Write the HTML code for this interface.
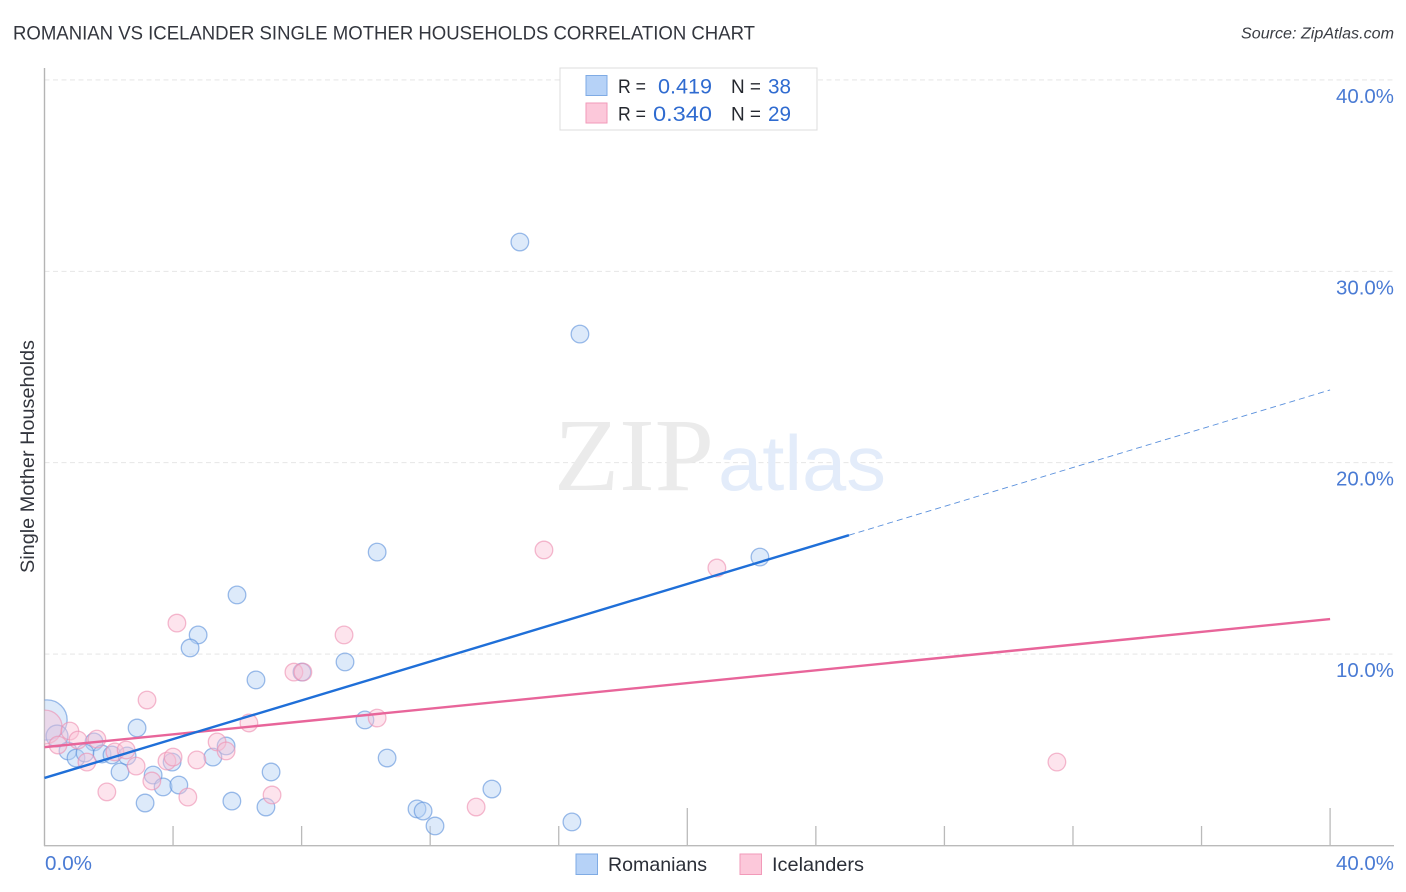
<!DOCTYPE html>
<html lang="en">
<head>
<meta charset="utf-8">
<title>Romanian vs Icelander Single Mother Households Correlation Chart</title>
<style>
  html, body { margin: 0; padding: 0; background: #fff; }
  body { width: 1406px; height: 892px; overflow: hidden; }
  svg { display: block; font-family: "Liberation Sans", sans-serif; }
</style>
</head>
<body>
<svg id="chart" xmlns="http://www.w3.org/2000/svg" width="1406" height="892" viewBox="0 0 1406 892">
  <defs>
    <clipPath id="plot-clip"><rect x="44.5" y="60" width="1350" height="786"/></clipPath>
  </defs>
  <rect x="0" y="0" width="1406" height="892" fill="#ffffff"/>
  <text x="13" y="39.5" font-size="19.5" fill="#33363e" textLength="742" lengthAdjust="spacingAndGlyphs">ROMANIAN VS ICELANDER SINGLE MOTHER HOUSEHOLDS CORRELATION CHART</text>
  <text x="1241" y="38.5" font-size="15.5" font-style="italic" fill="#3a3d44" textLength="153" lengthAdjust="spacingAndGlyphs">Source: ZipAtlas.com</text>
  <g id="grid"></g>
  <g>
    <text x="554" y="490" font-family="'Liberation Serif', serif" font-size="104" fill="#ebebeb" textLength="160" lengthAdjust="spacingAndGlyphs">ZIP</text>
    <text x="718" y="490" font-size="78" fill="#e3ecfa" textLength="168" lengthAdjust="spacingAndGlyphs">atlas</text>
  </g>
  <line x1="44.5" y1="68" x2="44.5" y2="846" stroke="#b4b4b4" stroke-width="1.4"/>
  <line x1="44" y1="845.7" x2="1394" y2="845.7" stroke="#bababa" stroke-width="1.4"/>
  <g id="x-ticks"></g>
  <g id="y-labels"></g>
  <g id="x-labels"></g>
  <text transform="translate(34 573) rotate(-90)" font-size="19" fill="#33363e" textLength="233" lengthAdjust="spacingAndGlyphs">Single Mother Households</text>
  <g id="points" clip-path="url(#plot-clip)"></g>
  <g id="trends"></g>

  <g>
    <rect x="560" y="68" width="257" height="62" fill="#ffffff" stroke="#dcdcdc" stroke-width="1"/>
    <rect x="586" y="75.5" width="21" height="20" fill="#b6d2f7" stroke="#7fabe4" stroke-width="1"/>
    <rect x="586" y="103" width="21" height="20" fill="#fcc8da" stroke="#f29ab9" stroke-width="1"/>
    <text x="618" y="93" font-size="19" fill="#25282f" textLength="28" lengthAdjust="spacingAndGlyphs">R =</text>
    <text x="658" y="93.5" font-size="21" fill="#2f6bd0" textLength="54" lengthAdjust="spacingAndGlyphs">0.419</text>
    <text x="731" y="93" font-size="19" fill="#25282f" textLength="30" lengthAdjust="spacingAndGlyphs">N =</text>
    <text x="768" y="93.5" font-size="21" fill="#2f6bd0" textLength="23" lengthAdjust="spacingAndGlyphs">38</text>
    <text x="618" y="120.5" font-size="19" fill="#25282f" textLength="28" lengthAdjust="spacingAndGlyphs">R =</text>
    <text x="653" y="121" font-size="21" fill="#2f6bd0" textLength="59" lengthAdjust="spacingAndGlyphs">0.340</text>
    <text x="731" y="120.5" font-size="19" fill="#25282f" textLength="30" lengthAdjust="spacingAndGlyphs">N =</text>
    <text x="768" y="121" font-size="21" fill="#2f6bd0" textLength="23" lengthAdjust="spacingAndGlyphs">29</text>
  </g>

  <g>
    <g>
      <rect x="576" y="854" width="21.5" height="20.5" fill="#b6d2f7" stroke="#7fabe4" stroke-width="1"/>
      <text x="608" y="871" font-size="19.5" fill="#2b2f38" textLength="99" lengthAdjust="spacingAndGlyphs">Romanians</text>
    </g>
    <g>
      <rect x="740" y="854" width="21.5" height="20.5" fill="#fcc8da" stroke="#f29ab9" stroke-width="1"/>
      <text x="772" y="871" font-size="19.5" fill="#2b2f38" textLength="92" lengthAdjust="spacingAndGlyphs">Icelanders</text>
    </g>
  </g>
</svg>
<script>
const yTickValues = [10, 20, 30, 40];
const yTickLabels = ["10.0%", "20.0%", "30.0%", "40.0%"];
const xTickValues = [4, 8, 12, 16, 20, 24, 28, 32, 36, 40];
const xMajorTicks = [20, 40];
const xEndValues = [0, 40];
const xEndLabels = ["0.0%", "40.0%"];

const romanianX = [0.08, 0.39, 14.79, 16.66, 22.26, 10.35, 5.99, 4.78, 4.53, 6.58, 9.35, 8.01, 2.88, 1.54, 0.73, 0.98, 1.26, 1.79, 2.10, 2.57, 2.35, 3.38, 3.69, 4.18, 3.97, 5.24, 5.65, 7.05, 5.83, 3.13, 6.89, 9.97, 10.66, 13.92, 11.59, 11.78, 12.15, 16.41];
const romanianY = [6.56, 5.72, 31.53, 26.72, 15.07, 15.33, 13.09, 11.0, 10.32, 8.65, 9.59, 9.06, 6.14, 5.41, 4.94, 4.57, 4.83, 4.78, 4.73, 4.68, 3.84, 3.68, 3.06, 3.16, 4.36, 4.62, 5.20, 3.84, 2.32, 2.22, 2.01, 6.56, 4.57, 2.95, 1.91, 1.80, 1.02, 1.23];
const romanianWeight = [5.2, 1.55];

const icelanderX = [0.02, 15.54, 20.92, 4.12, 9.32, 3.19, 7.76, 8.04, 6.36, 10.35, 0.79, 1.63, 1.04, 0.42, 1.32, 2.19, 2.54, 2.85, 3.34, 1.94, 3.81, 4.0, 4.74, 5.37, 5.65, 4.46, 7.08, 13.43, 31.5];
const icelanderY = [6.19, 15.44, 14.5, 11.62, 11.0, 7.6, 9.06, 9.06, 6.4, 6.66, 5.98, 5.56, 5.51, 5.25, 4.36, 4.89, 4.99, 4.15, 3.37, 2.80, 4.41, 4.62, 4.47, 5.41, 4.94, 2.53, 2.64, 2.01, 4.36];
const icelanderWeight = [3.7];

const romanianTrendStart = 3.53;
const romanianTrendEnd = 23.8;
const romanianSolidUntil = 25.03;
const icelanderTrendStart = 5.14;
const icelanderTrendEnd = 11.83;
const trendDomain = [0, 40];

const NS = "http://www.w3.org/2000/svg";
function xScale(v) { return 44.5 + v * 32.14; }
function yScale(v) { return 845.5 - v * 19.14; }
function rScale(w) { return 8.8 * Math.sqrt(w); }
function make(tag, attrs, parent) {
  const el = document.createElementNS(NS, tag);
  for (const k in attrs) el.setAttribute(k, attrs[k]);
  parent.appendChild(el);
  return el;
}

const grid = document.getElementById("grid");
const yLabels = document.getElementById("y-labels");
yTickValues.forEach(function (v, i) {
  const g = make("line", { x1: 44.5, x2: 1394, y1: yScale(v), y2: yScale(v), stroke: "#e2e2e2", "stroke-width": 0.9, "stroke-dasharray": "5 3.5" }, grid);
  
  
  const t = make("text", { x: 1394, y: yScale(v) + 23, "text-anchor": "end", "font-size": 20, fill: "#4a7bd4", textLength: 58, lengthAdjust: "spacingAndGlyphs" }, yLabels);
  t.textContent = yTickLabels[i];
  
  
});

const xTicks = document.getElementById("x-ticks");
xTickValues.forEach(function (v) {
  const major = xMajorTicks.indexOf(v) >= 0;
  const tick = make("line", { x1: xScale(v), x2: xScale(v), y1: major ? 808 : 826, y2: 845.5, stroke: "#bababa", "stroke-width": 1.3 }, xTicks);
  
  
});

const xLabels = document.getElementById("x-labels");
xEndValues.forEach(function (v, i) {
  const first = i === 0;
  const t = make("text", { x: first ? 45 : 1394, y: 870, "text-anchor": first ? "start" : "end", "font-size": 20, fill: "#4a7bd4", textLength: first ? 47 : 58, lengthAdjust: "spacingAndGlyphs" }, xLabels);
  t.textContent = xEndLabels[i];
  
  
});

const points = document.getElementById("points");
function drawSeries(xs, ys, weights, fill, stroke, name) {
  xs.forEach(function (x, i) {
    const c = make("circle", { cx: xScale(x), cy: yScale(ys[i]), r: rScale(weights[i] || 1), fill: fill, "fill-opacity": 0.45, stroke: stroke, "stroke-opacity": 0.62, "stroke-width": 1.3 }, points);
    
    
  });
}
drawSeries(romanianX, romanianY, romanianWeight, "#b4d0f5", "#5f93dc", "romanian-point");
drawSeries(icelanderX, icelanderY, icelanderWeight, "#fac4d7", "#ee8fb1", "icelander-point");

const trends = document.getElementById("trends");
function lerp(a, b, t) { return a + (b - a) * t; }
const solidFrac = (romanianSolidUntil - trendDomain[0]) / (trendDomain[1] - trendDomain[0]);
const solidEndY = lerp(romanianTrendStart, romanianTrendEnd, solidFrac);

const romanianDash = make("line", { x1: xScale(romanianSolidUntil), y1: yScale(solidEndY), x2: xScale(trendDomain[1]), y2: yScale(romanianTrendEnd), stroke: "#5a90dc", "stroke-width": 0.9, "stroke-dasharray": "6 4" }, trends);



const icelanderTrend = make("line", { x1: xScale(trendDomain[0]), y1: yScale(icelanderTrendStart), x2: xScale(trendDomain[1]), y2: yScale(icelanderTrendEnd), stroke: "#e8659a", "stroke-width": 2.4 }, trends);



const romanianTrend = make("line", { x1: xScale(trendDomain[0]), y1: yScale(romanianTrendStart), x2: xScale(romanianSolidUntil), y2: yScale(solidEndY), stroke: "#1f6fd8", "stroke-width": 2.4 }, trends);


</script>
</body>
</html>
